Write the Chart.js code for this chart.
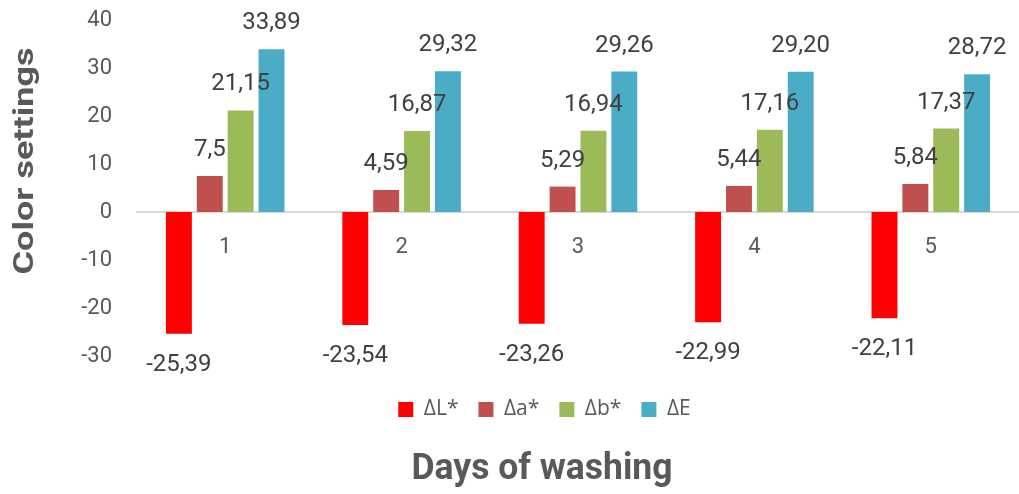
<!DOCTYPE html>
<html>
<head>
<meta charset="utf-8">
<script src="https://cdn.jsdelivr.net/npm/chart.js"></script>
<style>
  html, body { margin: 0; padding: 0; background: #fff; }
  #wrap { width: 1019px; height: 494px; }
</style>
</head>
<body>
<div id="wrap"><canvas id="colorChart" width="1019" height="494"></canvas></div>
<script>
// values kept as strings so the labels keep the source precision (7,5 vs 29,20)
const days = ['1', '2', '3', '4', '5'];
const deltaL = ['-25.39', '-23.54', '-23.26', '-22.99', '-22.11'];
const deltaA = ['7.5', '4.59', '5.29', '5.44', '5.84'];
const deltaB = ['21.15', '16.87', '16.94', '17.16', '17.37'];
const deltaE = ['33.89', '29.32', '29.26', '29.20', '28.72'];
const yTicks = [-30, -20, -10, 0, 10, 20, 30, 40];

const textGrey = '#595959';

// numbers over / under each bar
const valueLabels = {
  id: 'valueLabels',
  afterDatasetsDraw(chart) {
    const ctx = chart.ctx;
    ctx.save();
    ctx.font = '24px Roboto';
    ctx.fillStyle = '#404040';
    ctx.textAlign = 'center';
    chart.data.datasets.forEach((ds, i) => {
      chart.getDatasetMeta(i).data.forEach((bar, j) => {
        const raw = ds.data[j];
        const txt = raw.replace('.', ',');
        if (+raw < 0) {
          ctx.textBaseline = 'top';
          ctx.fillText(txt, bar.x, bar.y + 19);
        } else {
          ctx.textBaseline = 'alphabetic';
          ctx.fillText(txt, bar.x, bar.y - 20);
        }
      });
    });
    ctx.restore();
  }
};

// narrow bold axis titles (no condensed font installed, so squeeze Roboto)
function squeezedText(ctx, text, size, width) {
  ctx.font = 'bold ' + size + 'px Roboto';
  const w = ctx.measureText(text).width;
  ctx.scale(width / w, 1);
  ctx.textAlign = 'center';
  ctx.textBaseline = 'alphabetic';
  ctx.fillText(text, 0, 0);
}

const axisTitles = {
  id: 'axisTitles',
  afterDraw(chart) {
    const ctx = chart.ctx;
    ctx.save();
    ctx.fillStyle = textGrey;
    ctx.translate(542, 479);
    squeezedText(ctx, 'Days of washing', 36, 261);
    ctx.restore();

    ctx.save();
    ctx.fillStyle = textGrey;
    ctx.translate(33, 161);
    ctx.rotate(-Math.PI / 2);
    squeezedText(ctx, 'Color settings', 28, 227);
    ctx.restore();
  }
};

new Chart(document.getElementById('colorChart'), {
  type: 'bar',
  data: {
    labels: days,
    datasets: [
      { label: '\u0394L*', data: deltaL, backgroundColor: '#FF0000' },
      { label: '\u0394a*', data: deltaA, backgroundColor: '#C0504D' },
      { label: '\u0394b*', data: deltaB, backgroundColor: '#9BBB59' },
      { label: '\u0394E', data: deltaE, backgroundColor: '#4BACC6' }
    ]
  },
  options: {
    responsive: false,
    animation: false,
    layout: { padding: { top: 0, right: 0, left: 70, bottom: 64 } },
    datasets: {
      bar: { categoryPercentage: 0.7, barPercentage: 0.84 }
    },
    plugins: {
      tooltip: { enabled: false },
      legend: {
        position: 'bottom',
        title: { display: true, text: '', font: { size: 1, lineHeight: 1 }, padding: { top: 22, bottom: 0 } },
        labels: {
          boxWidth: 15,
          boxHeight: 15,
          padding: 20,
          color: textGrey,
          font: { family: 'Open Sans', size: 21 }
        }
      }
    },
    scales: {
      x: {
        position: { y: 0 },
        grid: { display: false },
        border: { color: '#d9d9d9', width: 2 },
        ticks: {
          color: textGrey,
          font: { family: 'Roboto', size: 22 },
          padding: 14
        }
      },
      y: {
        min: -30,
        max: 40,
        afterBuildTicks(scale) {
          scale.ticks = yTicks.map(v => ({ value: v }));
        },
        afterFit(scale) {
          scale.width = 67;
          scale.paddingTop = 20;
          scale.paddingBottom = 0;
        },
        grid: { display: false },
        border: { display: false },
        ticks: {
          color: textGrey,
          font: { family: 'Roboto', size: 22 },
          padding: 17
        }
      }
    }
  },
  plugins: [valueLabels, axisTitles]
});
</script>
</body>
</html>
